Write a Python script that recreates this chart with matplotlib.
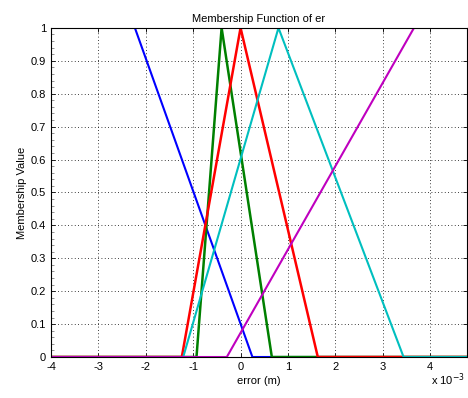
import matplotlib
matplotlib.use("Agg")
import matplotlib.pyplot as plt
import numpy as np

# membership functions of "er" (x in units of 1e-3 m)
x_min, x_max = -4.0, 4.77
blue_x = [-4.0, -2.23, 0.25, 4.77]
blue_y = [1, 1, 0, 0]
green_x = [-4.0, -0.93, -0.40, 0.66, 4.77]
green_y = [0, 0, 1, 0, 0]
red_x = [-4.0, -1.24, 0.0, 1.63, 4.77]
red_y = [0, 0, 1, 0, 0]
cyan_x = [-4.0, -1.21, 0.80, 3.44, 4.77]
cyan_y = [0, 0, 1, 0, 0]
magenta_x = [-4.0, -0.29, 3.66, 4.77]
magenta_y = [0, 0, 1, 1]

xticks = [-4, -3, -2, -1, 0, 1, 2, 3, 4]
yticks = np.round(np.arange(0, 1.01, 0.1), 1)

plt.rcParams["font.family"] = "Liberation Sans"
plt.rcParams["font.size"] = 8

fig = plt.figure(figsize=(4.68, 3.98), dpi=100)
ax = fig.add_axes([0.109, 0.103, 0.888, 0.827])

ax.plot(blue_x, blue_y, color=(0, 0, 1), lw=1.5)
ax.plot(green_x, green_y, color=(0, 0.5, 0), lw=1.8)
ax.plot(red_x, red_y, color=(1, 0, 0), lw=1.8)
ax.plot(cyan_x, cyan_y, color=(0, 0.75, 0.75), lw=1.5)
ax.plot(magenta_x, magenta_y, color=(0.75, 0, 0.75), lw=1.5)

ax.set_xlim(x_min, x_max)
ax.set_ylim(0, 1)
ax.set_xticks(xticks)
ax.set_xticklabels([str(t) for t in xticks])
ax.set_yticks(yticks)
ax.set_yticklabels(["0"] + [f"{t:g}" for t in yticks[1:-1]] + ["1"])
ax.set_yticks(np.arange(0, 1.001, 0.02), minor=True)
ax.tick_params(which="both", direction="in", top=True, right=True, length=3, width=0.6)
ax.tick_params(which="minor", length=2, right=False, width=0.5, colors="#666666")
ax.grid(True, color="black", linestyle=(0, (1, 3)), lw=0.6)
for s in ax.spines.values():
    s.set_linewidth(0.8)

ax.set_title("Membership Function of er", fontsize=8, pad=4)
ax.set_xlabel("error (m)", fontsize=8, labelpad=3)
ax.set_ylabel("Membership Value", fontsize=8, labelpad=3)
fig.text(0.993, 0.025, r"x 10$^{-3}$", fontsize=8, ha="right", va="bottom")

fig.savefig("out.png", dpi=100, facecolor="white")
